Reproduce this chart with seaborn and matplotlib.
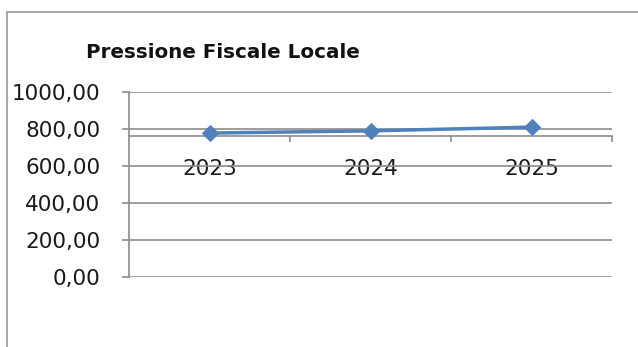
import matplotlib
matplotlib.use("Agg")
import matplotlib.pyplot as plt
from matplotlib.lines import Line2D
from matplotlib.ticker import FixedLocator, FuncFormatter
import seaborn as sns
import pandas as pd

# ---- data ----
years = ["2023", "2024", "2025"]
values = [778.0, 790.0, 810.0]
y_ticks = [0, 200, 400, 600, 800, 1000]
title = "Pressione Fiscale Locale"
axis_cross = 760  # value where the horizontal axis crosses

sns.set_theme(style="white")
plt.rcParams["font.family"] = ["DejaVu Sans"]

W, H, DPI = 638, 347, 100
fig = plt.figure(figsize=(W / DPI, H / DPI), dpi=DPI)
fig.patch.set_facecolor("white")

left, right, top, bottom = 129, 612, 92, 277
ax = fig.add_axes([left / W, 1 - bottom / H, (right - left) / W, (bottom - top) / H])
ax.set_facecolor("white")

df = pd.DataFrame({"Anno": years, "Valore": values})
blue = "#4F81BD"
sns.lineplot(data=df, x="Anno", y="Valore", ax=ax, sort=False, color=blue,
             linewidth=2.5, marker="D", markersize=8.5, markeredgecolor=blue,
             markerfacecolor=blue, zorder=5)

grid_c = "#8C8C8C"
ax.set_xlim(-0.5, len(years) - 0.5)
ax.set_ylim(0, 1000)
ax.set_yticks(y_ticks)
ax.yaxis.set_major_formatter(FuncFormatter(lambda v, p: f"{v:.2f}".replace(".", ",")))
ax.yaxis.grid(True, color=grid_c, linewidth=1.2)
ax.xaxis.grid(False)
ax.set_axisbelow(True)

for s in ["top", "right"]:
    ax.spines[s].set_visible(False)
ax.spines["left"].set_color(grid_c)
ax.spines["left"].set_linewidth(1.2)
ax.spines["bottom"].set_color(grid_c)
ax.spines["bottom"].set_linewidth(1.2)
ax.spines["bottom"].set_position(("data", axis_cross))

txt_c = "#1A1A1A"
ax.tick_params(axis="y", direction="out", length=5, width=1.2, color=grid_c,
               pad=15.5, labelsize=15.5, labelcolor=txt_c, left=True)
ax.set_xticks(range(len(years)))
ax.set_xticklabels(years)
ax.xaxis.set_minor_locator(FixedLocator([i + 0.5 for i in range(len(years))]))
ax.tick_params(axis="x", which="major", length=0, pad=16.5, labelsize=15.5, labelcolor=txt_c)
ax.tick_params(axis="x", which="minor", direction="out", length=4.5, width=1.2,
               color=grid_c, bottom=True)
ax.set_xlabel("")
ax.set_ylabel("")

fig.text(86 / W, 1 - 58 / H, title, fontsize=14.3, fontweight="bold",
         color="#111111", ha="left", va="baseline")

# chart border (left and top edges visible)
border_c = "#A0A0A0"
fig.add_artist(Line2D([7 / W, 7 / W], [0, 1 - 12 / H], color=border_c, linewidth=1.3,
                      transform=fig.transFigure))
fig.add_artist(Line2D([7 / W, 1], [1 - 12 / H, 1 - 12 / H], color=border_c, linewidth=1.3,
                      transform=fig.transFigure))

fig.savefig("out.png", dpi=DPI, facecolor="white")
